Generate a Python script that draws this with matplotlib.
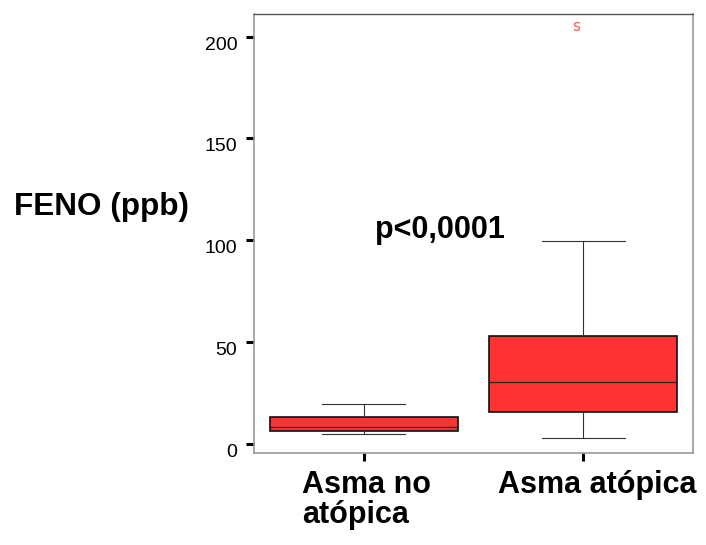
import matplotlib
matplotlib.use("Agg")
import matplotlib.pyplot as plt

plt.rcParams['font.family'] = ['Liberation Sans', 'DejaVu Sans']

# ---- data ----
categories = ["Asma no\natópica", "Asma atópica"]
q1 = [6.2, 15.4]
median = [8.4, 30.2]
q3 = [13.0, 52.9]
whisker_low = [4.6, 3.0]
whisker_high = [19.7, 99.6]
outliers = [[], [205.0]]
outlier_marks = [[], ["s"]]
y_ticks = [0, 50, 100, 150, 200]
p_text = "p<0,0001"
y_label = "FENO (ppb)"

W, H = 706, 545
fig = plt.figure(figsize=(W / 100, H / 100), dpi=100)
ax = fig.add_axes([254 / W, 1 - 453 / H, (693 - 254) / W, (453 - 14) / H])

positions = [1, 2]
stats = []
for i in range(len(categories)):
    stats.append(dict(med=median[i], q1=q1[i], q3=q3[i],
                      whislo=whisker_low[i], whishi=whisker_high[i],
                      fliers=[], label=categories[i]))

ax.bxp(stats, positions=positions, widths=0.857, capwidths=0.38,
       patch_artist=True, showfliers=False,
       boxprops=dict(facecolor="#FF3333", edgecolor="#111111", linewidth=1.2),
       medianprops=dict(color="#222222", linewidth=0.9),
       whiskerprops=dict(color="#333333", linewidth=0.8),
       capprops=dict(color="#333333", linewidth=0.8))

# outlier markers drawn as small red "s"
for pos, vals, marks in zip(positions, outliers, outlier_marks):
    for v, m in zip(vals, marks):
        ax.annotate(m, xy=(pos, v), xytext=(-5, 0), textcoords="offset points",
                    ha="center", va="center", color="#FF5555", fontsize=11,
                    family="DejaVu Sans")

ax.set_xlim(0.5, 2.5)
ax.set_ylim(-4.6, 211.2)

ax.set_yticks(y_ticks)
ax.set_yticklabels([str(t) for t in y_ticks])
for lbl in ax.get_yticklabels():
    lbl.set_verticalalignment("top")
ax.tick_params(axis="y", direction="out", length=6, width=2.2, color="black",
               labelsize=14, pad=6)
ax.set_xticks(positions)
ax.set_xticklabels(["", ""])
ax.tick_params(axis="x", direction="out", length=6, width=2.2, color="black")

for side in ["left", "right", "bottom"]:
    ax.spines[side].set_color("#999999")
    ax.spines[side].set_linewidth(1.2)
ax.spines["top"].set_color("#555555")
ax.spines["top"].set_linewidth(1.0)

# category labels
lines0 = categories[0].split("\n")
fig.text(302 / W, 1 - 493 / H, lines0[0], ha="left", va="baseline",
         fontsize=22, fontweight="bold")
fig.text(302 / W, 1 - 523.5 / H, lines0[1], ha="left", va="baseline",
         fontsize=22, fontweight="bold")
fig.text(498 / W, 1 - 493 / H, categories[1], ha="left", va="baseline",
         fontsize=22, fontweight="bold")

# y label and p-value
fig.text(14 / W, 1 - 215 / H, y_label, ha="left", va="baseline",
         fontsize=22.7, fontweight="bold")
fig.text(375 / W, 1 - 238 / H, p_text, ha="left", va="baseline",
         fontsize=22, fontweight="bold")

fig.savefig("out.png", dpi=100)
